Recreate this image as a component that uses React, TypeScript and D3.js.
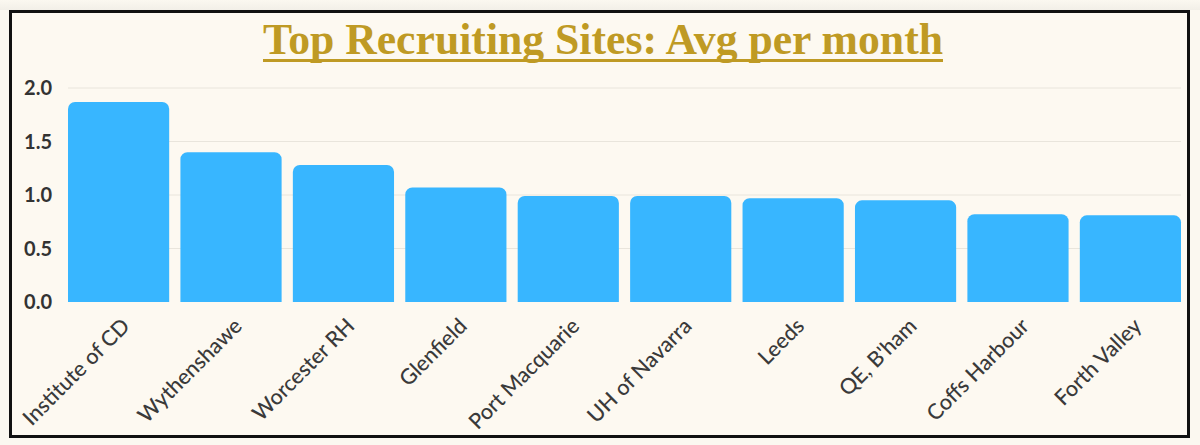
import * as d3 from 'd3';

const sites = [
  'Institute of CD', 'Wythenshawe', 'Worcester RH', 'Glenfield', 'Port Macquarie',
  'UH of Navarra', 'Leeds', "QE, B'ham", 'Coffs Harbour', 'Forth Valley'
];
const avgPerMonth = [1.87, 1.40, 1.28, 1.07, 0.99, 0.99, 0.97, 0.95, 0.82, 0.81];
const yTicks = [0, 0.5, 1.0, 1.5, 2.0];
const title = 'Top Recruiting Sites: Avg per month';

const width = 1200;
const height = 445;

function topRoundedBar(x: number, y: number, w: number, h: number, r: number) {
  const rr = Math.min(r, h, w / 2);
  const p = d3.path();
  p.moveTo(x, y + h);
  p.lineTo(x, y + rr);
  p.arcTo(x, y, x + rr, y, rr);
  p.lineTo(x + w - rr, y);
  p.arcTo(x + w, y, x + w, y + rr, rr);
  p.lineTo(x + w, y + h);
  p.closePath();
  return p.toString();
}

export default function App() {
  const x = d3.scaleBand<string>()
    .domain(sites)
    .range([68, 1181])
    .paddingInner(0.1)
    .paddingOuter(0);

  const y = d3.scaleLinear()
    .domain([0, 2])
    .range([302, 88]);

  return (
    <svg
      width={width}
      height={height}
      style={{ position: 'fixed', left: 0, top: 0, background: '#fbf8f0' }}
    >
      <defs>
        <linearGradient id="topShadow" x1="0" y1="0" x2="0" y2="1">
          <stop offset="0" stopColor="#fbf8f0" />
          <stop offset="1" stopColor="#ece9e2" />
        </linearGradient>
      </defs>
      <rect x={0} y={0} width={width} height={height} fill="#fbf8f0" />
      <rect x={0} y={0} width={width} height={10} fill="url(#topShadow)" opacity={0.6} />
      <rect x={10.5} y={11.5} width={1178} height={425} fill="#fdf9f1" stroke="#111" strokeWidth={3} />

      <text
        x={603}
        y={54}
        textAnchor="middle"
        fill="#bf9a24"
        textLength={680}
        lengthAdjust="spacingAndGlyphs"
        style={{ fontFamily: '"Liberation Serif", "DejaVu Serif", serif', fontWeight: 700, fontSize: '44px' }}
      >
        {title}
      </text>
      <rect x={263} y={59} width={680} height={3} fill="#bf9a24" />

      {yTicks.map(t => (
        <g key={t}>
          {t > 0 && (
            <line x1={68} x2={1181} y1={y(t)} y2={y(t)} stroke="#e9e5dc" strokeWidth={1} />
          )}
          <text
            x={52}
            y={y(t)}
            dy="0.36em"
            textAnchor="end"
            fill="#333"
            style={{ fontFamily: 'Lato, sans-serif', fontWeight: 700, fontSize: '20px' }}
          >
            {d3.format('.1f')(t)}
          </text>
        </g>
      ))}

      {sites.map((s, i) => {
        const bx = x(s) ?? 0;
        const by = y(avgPerMonth[i]);
        return (
          <path
            key={s}
            d={topRoundedBar(bx, by, x.bandwidth(), y(0) - by, 7)}
            fill="#38b6ff"
          />
        );
      })}

      {sites.map(s => {
        const cx = (x(s) ?? 0) + x.bandwidth() / 2;
        return (
          <text
            key={s}
            transform={`translate(${cx + 1},${316}) rotate(-45)`}
            textAnchor="end"
            dy="0.75em"
            fill="#3a3a3a"
            style={{ fontFamily: 'Lato, sans-serif', fontWeight: 500, fontSize: '21.5px' }}
          >
            {s}
          </text>
        );
      })}
    </svg>
  );
}
